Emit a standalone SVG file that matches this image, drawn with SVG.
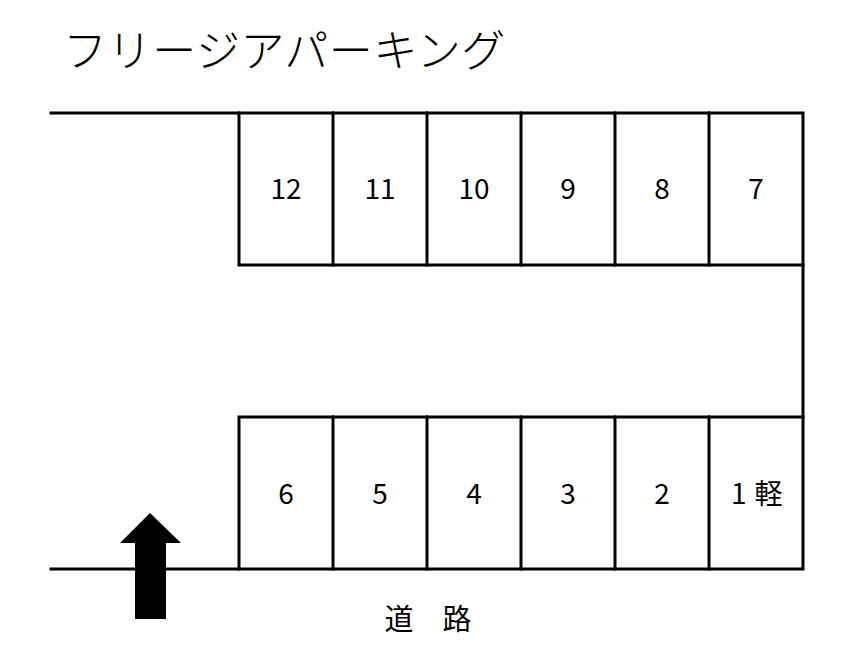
<svg xmlns="http://www.w3.org/2000/svg" width="844" height="664" viewBox="0 0 844 664">
<style>
.ln{stroke:#000;stroke-width:3;fill:none;stroke-linecap:square}
.t{font-family:"Noto Sans CJK JP","Noto Sans",sans-serif;fill:#000}
.n{font-size:28px;text-anchor:middle}
</style>
<rect width="844" height="664" fill="#fff"/>
<text id="title" class="t" x="63" y="67" font-size="44" font-weight="300" letter-spacing="0.6">フリージアパーキング</text>
<g id="outline">
<path class="ln" d="M51 113 H803 V569 H51"/>
<path class="ln" d="M803 265 H239 V113"/>
<path class="ln" d="M803 417 H239 V569"/>
</g>
<g id="stalls-top">
<g id="s12"><text class="t n" x="286" y="199">12</text></g>
<g id="s11"><line class="ln" x1="333" y1="113" x2="333" y2="265"/><text class="t n" x="380" y="199">11</text></g>
<g id="s10"><line class="ln" x1="427" y1="113" x2="427" y2="265"/><text class="t n" x="474" y="199">10</text></g>
<g id="s9"><line class="ln" x1="521" y1="113" x2="521" y2="265"/><text class="t n" x="568" y="199">9</text></g>
<g id="s8"><line class="ln" x1="615" y1="113" x2="615" y2="265"/><text class="t n" x="662" y="199">8</text></g>
<g id="s7"><line class="ln" x1="709" y1="113" x2="709" y2="265"/><text class="t n" x="756" y="199">7</text></g>
</g>
<g id="stalls-bottom">
<g id="s6"><text class="t n" x="286" y="504">6</text></g>
<g id="s5"><line class="ln" x1="333" y1="417" x2="333" y2="569"/><text class="t n" x="380" y="504">5</text></g>
<g id="s4"><line class="ln" x1="427" y1="417" x2="427" y2="569"/><text class="t n" x="474" y="504">4</text></g>
<g id="s3"><line class="ln" x1="521" y1="417" x2="521" y2="569"/><text class="t n" x="568" y="504">3</text></g>
<g id="s2"><line class="ln" x1="615" y1="417" x2="615" y2="569"/><text class="t n" x="662" y="504">2</text></g>
<g id="s1"><line class="ln" x1="709" y1="417" x2="709" y2="569"/><text class="t" font-size="28" x="731" y="504">1<tspan dx="8">軽</tspan></text></g>
</g>
<g id="entrance-arrow">
<polygon points="150,513 181,543 166,543 166,619 135,619 135,543 120,543" fill="#000"/>
</g>
<text id="road" class="t" x="428" y="630" font-size="29" text-anchor="middle">道　路</text>
</svg>
